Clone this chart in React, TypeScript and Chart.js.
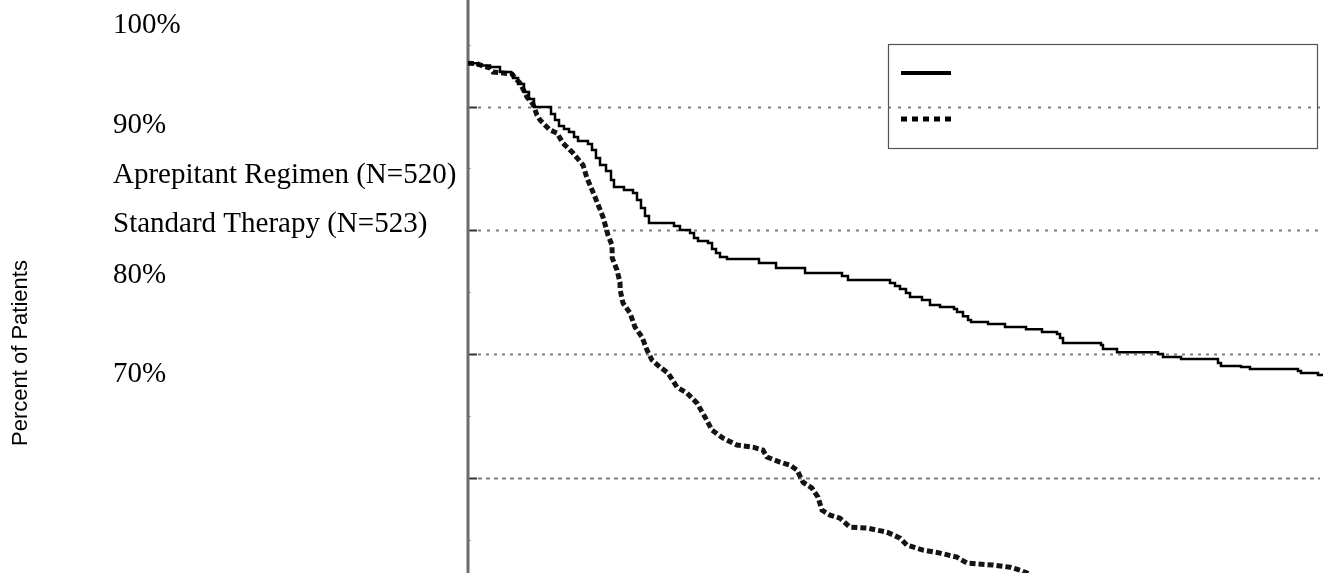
import React, { useEffect, useRef } from "react";
import { Chart, registerables } from "chart.js";

Chart.register(...registerables);

// ---------- data ----------
const SERIES_LABELS = ["Aprepitant Regimen (N=520)", "Standard Therapy (N=523)"];
const Y_TICK_LABELS = ["100%", "90%", "80%", "70%"];
const Y_TITLE = "Percent of Patients";
const GRID_VALUES = [90, 80, 70, 60];
const MINOR_VALUES = [95, 85, 75, 65, 55];
const X_MIN = 0;
const X_MAX = 120;
const Y_MIN = 52.3;
const Y_MAX = 98.61;

// Aprepitant regimen (solid, Kaplan-Meier steps)
const APREP_HOURS = [
  0, 1.4, 3.09, 4.49, 6.04, 6.32, 7.02, 7.86, 8.56, 9.26, 11.65, 12.21, 12.77, 13.47, 14.18,
  14.88, 15.44, 16.84, 17.4, 17.96, 18.53, 19.37, 20.07, 20.49, 21.89, 23.16, 23.72, 24.28,
  24.84, 25.4, 28.91, 29.75, 31.16, 31.72, 32.28, 33.68, 34.25, 34.81, 35.37, 36.35, 40.84,
  43.23, 47.3, 52.49, 53.33, 59.23, 59.93, 60.63, 61.47, 62.04, 63.72, 64.84, 66.25, 68.21,
  68.63, 69.47, 70.18, 70.6, 72.98, 75.37, 78.32, 80.56, 82.67, 83.09, 83.51, 88.84, 89.12,
  91.09, 96.84, 97.54, 100.07, 105.26, 105.68, 108.49, 109.75, 116.49, 116.91, 119.3, 120,
];
const APREP_PCT = [
  93.49, 93.31, 93.19, 92.79, 92.63, 92.3, 91.82, 91.17, 90.61, 89.96, 89.39, 88.91, 88.42,
  88.18, 87.94, 87.53, 87.21, 86.97, 86.48, 85.84, 85.27, 84.79, 84.06, 83.49, 83.25, 83.01,
  82.44, 81.8, 81.15, 80.58, 80.34, 80.02, 79.77, 79.37, 79.13, 78.97, 78.48, 78.16, 77.83,
  77.67, 77.35, 76.95, 76.54, 76.3, 75.98, 75.73, 75.49, 75.25, 74.92, 74.6, 74.36, 73.95,
  73.79, 73.63, 73.39, 73.06, 72.74, 72.58, 72.42, 72.18, 72.01, 71.77, 71.61, 71.29, 70.88,
  70.72, 70.4, 70.15, 69.99, 69.75, 69.59, 69.27, 69.02, 68.94, 68.78, 68.62, 68.46, 68.3,
  68.3,
];

// Standard therapy (dotted)
const STD_HOURS = [
  0, 1.26, 1.68, 3.09, 3.51, 4.91, 6.18, 6.6, 7.3, 8.28, 9.12, 9.68, 10.11, 11.51, 12.49,
  13.33, 14.74, 16.14, 16.7, 17.54, 18.11, 18.95, 19.65, 20.21, 20.25, 20.91, 21.33, 21.36,
  21.75, 22.74, 23.44, 24.42, 25.12, 25.82, 26.95, 28.07, 29.33, 30.74, 32.14, 33.26, 34.25,
  35.79, 37.75, 40.0, 41.4, 41.96, 43.79, 45.19, 46.18, 47.02, 48.28, 49.12, 49.68, 50.81,
  52.21, 53.61, 56.0, 58.81, 60.63, 61.61, 63.86, 66.25, 68.63, 70.04, 73.68, 76.07, 77.47,
  78.46, 80.28,
];
const STD_PCT = [
  93.49, 93.48, 93.36, 93.11, 92.79, 92.71, 92.63, 92.3, 91.9, 90.77, 90.2, 89.31, 88.91,
  88.1, 87.86, 87.05, 86.24, 85.27, 84.22, 83.09, 82.28, 81.07, 79.61, 78.8, 77.75, 76.78,
  75.81, 75.17, 74.12, 73.31, 72.17, 71.37, 70.32, 69.51, 68.94, 68.46, 67.32, 66.84, 66.03,
  64.9, 63.85, 63.2, 62.64, 62.47, 62.23, 61.67, 61.26, 61.02, 60.62, 59.64, 59.16, 58.43,
  57.38, 56.98, 56.73, 56.01, 55.93, 55.6, 55.12, 54.55, 54.15, 53.91, 53.58, 53.1, 52.94,
  52.77, 52.53, 52.29, 51.72,
];

const SERIF = '"Liberation Serif", "Times New Roman", serif';
const SANS = '"Liberation Sans", Arial, sans-serif';

const decorPlugin = {
  id: "decor",
  beforeDatasetsDraw(chart: any) {
    const { ctx, chartArea } = chart;
    const y = chart.scales.y;
    const left = chartArea.left;
    const right = chartArea.right - 3;
    ctx.save();
    // dotted grid lines
    const dashes = [[3, 7], [3, 6], [3, 5], [4, 4]];
    GRID_VALUES.forEach((v, i) => {
      const py = Math.round(y.getPixelForValue(v)) + 0.5;
      ctx.strokeStyle = "#7d7d7d";
      ctx.lineWidth = 2;
      ctx.setLineDash(dashes[i % dashes.length]);
      ctx.beginPath();
      ctx.moveTo(left + 10, py);
      ctx.lineTo(right, py);
      ctx.stroke();
      // major tick
      ctx.setLineDash([]);
      ctx.strokeStyle = "#333";
      ctx.beginPath();
      ctx.moveTo(left, py);
      ctx.lineTo(left + 9, py);
      ctx.stroke();
    });
    // minor ticks
    ctx.setLineDash([]);
    ctx.strokeStyle = "#aaa";
    ctx.lineWidth = 1;
    MINOR_VALUES.forEach((v) => {
      const py = Math.round(y.getPixelForValue(v)) + 0.5;
      ctx.beginPath();
      ctx.moveTo(left, py);
      ctx.lineTo(left + 3, py);
      ctx.stroke();
    });
    // axis line
    ctx.strokeStyle = "#6c6c6c";
    ctx.lineWidth = 3;
    ctx.beginPath();
    ctx.moveTo(left, chartArea.top);
    ctx.lineTo(left, chartArea.bottom);
    ctx.stroke();
    ctx.restore();
  },
  afterDraw(chart: any) {
    const { ctx } = chart;
    ctx.save();
    // legend box
    ctx.strokeStyle = "#555";
    ctx.lineWidth = 1.2;
    ctx.strokeRect(888.5, 44.5, 429, 104);
    ctx.strokeStyle = "#000";
    ctx.lineWidth = 4;
    ctx.beginPath();
    ctx.moveTo(901, 73);
    ctx.lineTo(951, 73);
    ctx.stroke();
    ctx.lineWidth = 5;
    ctx.setLineDash([6, 5]);
    ctx.beginPath();
    ctx.moveTo(901, 119);
    ctx.lineTo(953, 119);
    ctx.stroke();
    ctx.setLineDash([]);

    // left-side texts
    ctx.fillStyle = "#000";
    ctx.font = `29px ${SERIF}`;
    ctx.textAlign = "left";
    ctx.textBaseline = "alphabetic";
    const lines = [
      Y_TICK_LABELS[0],
      Y_TICK_LABELS[1],
      SERIES_LABELS[0],
      SERIES_LABELS[1],
      Y_TICK_LABELS[2],
      Y_TICK_LABELS[3],
    ];
    const baselines = [33, 133, 183, 232, 283, 382];
    lines.forEach((t, i) => ctx.fillText(t, 113, baselines[i]));

    // rotated axis title
    ctx.font = `22px ${SANS}`;
    ctx.translate(27, 353);
    ctx.rotate(-Math.PI / 2);
    ctx.textAlign = "center";
    ctx.fillText(Y_TITLE, 0, 0);
    ctx.restore();
  },
};

export default function App() {
  const ref = useRef<HTMLCanvasElement | null>(null);
  useEffect(() => {
    if (!ref.current) return;
    const chart = new Chart(ref.current, {
      type: "line",
      data: {
        datasets: [
          {
            label: SERIES_LABELS[0],
            data: APREP_HOURS.map((h, i) => ({ x: h, y: APREP_PCT[i] })),
            borderColor: "#000",
            borderWidth: 2.5,
            stepped: "before",
            pointRadius: 0,
            fill: false,
          },
          {
            label: SERIES_LABELS[1],
            data: STD_HOURS.map((h, i) => ({ x: h, y: STD_PCT[i] })),
            borderColor: "#141414",
            borderWidth: 5,
            borderDash: [6, 3],
            pointRadius: 0,
            tension: 0,
            fill: false,
          },
        ],
      },
      options: {
        responsive: false,
        animation: false,
        layout: { padding: { left: 468, right: 6, top: 0, bottom: 0 } },
        plugins: { legend: { display: false }, tooltip: { enabled: false } },
        scales: {
          x: { type: "linear", min: X_MIN, max: X_MAX, display: false },
          y: { type: "linear", min: Y_MIN, max: Y_MAX, display: false },
        },
      },
      plugins: [decorPlugin],
    });
    return () => chart.destroy();
  }, []);
  return (
    <div style={{ position: "fixed", left: 0, top: 0, width: 1329, height: 573, background: "#fff" }}>
      <canvas ref={ref} width={1329} height={573} style={{ width: 1329, height: 573, display: "block" }} />
    </div>
  );
}
